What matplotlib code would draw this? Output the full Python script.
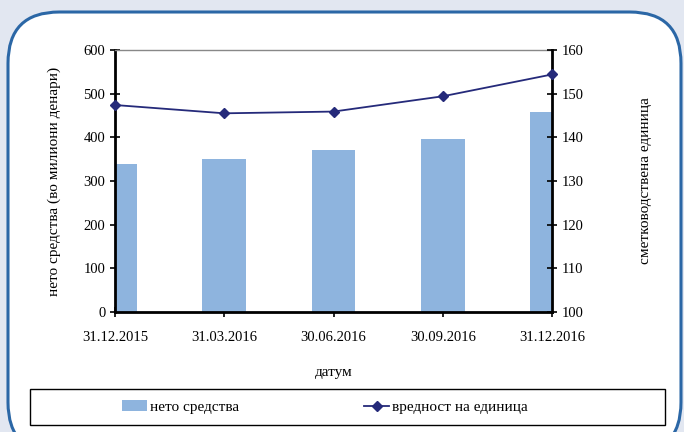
import numpy as np
import matplotlib
matplotlib.use('Agg')
import matplotlib.pyplot as plt
from matplotlib.patches import FancyBboxPatch, Rectangle

# data
dates = ['31.12.2015', '31.03.2016', '30.06.2016', '30.09.2016', '31.12.2016']
net_assets = [338, 351, 372, 397, 457]
unit_value = [147.4, 145.5, 145.9, 149.4, 154.4]

plt.rcParams['font.family'] = ['Liberation Serif', 'DejaVu Serif']

fig = plt.figure(figsize=(6.84, 4.32), dpi=100)
fig.patch.set_facecolor('#e2e7f1')

# rounded white panel with blue border
panel = FancyBboxPatch((8 / 684, -0.05), 673 / 684, 1.0 - 12 / 432 + 0.05,
                       boxstyle='round,pad=0,rounding_size=0.075',
                       transform=fig.transFigure, facecolor='white',
                       edgecolor='#2b67a6', linewidth=2.2, zorder=-10,
                       mutation_aspect=684 / 432)
fig.patches.append(panel)

# legend frame
fig.patches.append(Rectangle((30 / 684, 1 - 425 / 432), 635 / 684, 36 / 432,
                             transform=fig.transFigure, facecolor='white',
                             edgecolor='black', linewidth=1, zorder=-5))

ax = fig.add_axes([115 / 684, 1 - 312 / 432, 437 / 684, 262 / 432])
ax.set_zorder(1)
ax.set_facecolor('none')
x = np.arange(len(dates))
bars = ax.bar(x, net_assets, width=0.4, color='#8eb4de', zorder=2)
ax.set_xlim(0, len(dates) - 1)
ax.set_ylim(0, 600)
ax.set_yticks(np.arange(0, 601, 100))
ax.set_xticks(x)
ax.set_xticklabels(dates)
ax.tick_params(direction='inout', length=7, width=1.2, labelsize=10.5, colors='black')
ax.tick_params(axis='x', pad=10)
for s in ['left', 'bottom']:
    ax.spines[s].set_linewidth(2)
ax.spines['right'].set_visible(False)
ax.spines['top'].set_color('#888888')
ax.spines['top'].set_linewidth(1)
ax.set_ylabel('нето средства (во милиони денари)', fontsize=11, labelpad=16)
ax.set_xlabel('датум', fontsize=11, labelpad=16)

ax2 = ax.twinx()
ax2.set_zorder(2)
line, = ax2.plot(x, unit_value, color='#252a7a', marker='D', markersize=5,
                 linewidth=1.3, zorder=3, clip_on=False)
ax2.set_ylim(100, 160)
ax2.set_yticks(np.arange(100, 161, 10))
ax2.tick_params(direction='inout', length=7, width=1.2, labelsize=10.5)
ax2.spines['right'].set_linewidth(2)
for s in ['left', 'bottom', 'top']:
    ax2.spines[s].set_visible(False)
ax2.set_ylabel('сметководствена единица', fontsize=11, labelpad=40)

leg = fig.legend([bars, line], ['нето средства', 'вредност на единица'],
                 loc='center', bbox_to_anchor=(325 / 684, 1 - 407 / 432),
                 ncol=2, frameon=False, fontsize=11, handlelength=1.6,
                 handletextpad=0.2, columnspacing=8.2)

plt.savefig('out.png', dpi=100, facecolor=fig.get_facecolor())
plt.close()
